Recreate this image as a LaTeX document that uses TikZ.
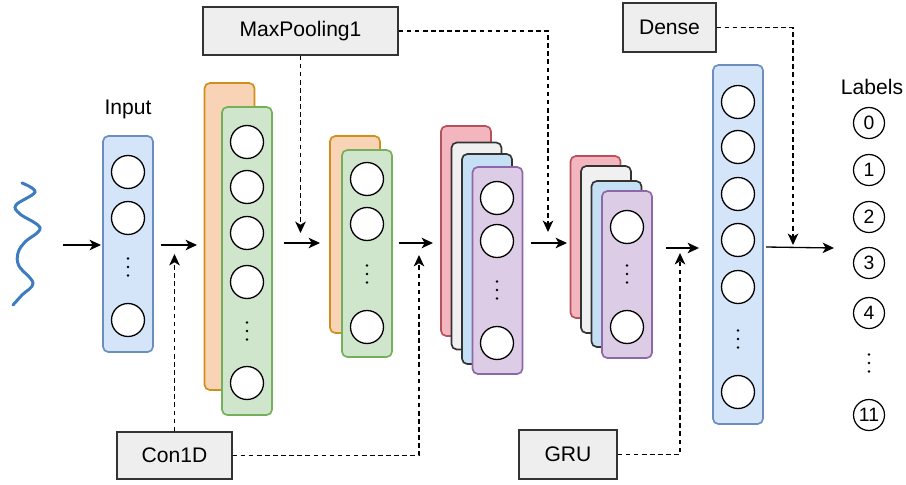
\documentclass[tikz,border=0pt]{standalone}
\usepackage{fontspec}
\setmainfont{Liberation Sans}
\usetikzlibrary{arrows.meta, positioning}

\definecolor{inFill}{HTML}{D4E5FA}
\definecolor{inLine}{HTML}{6C8EBF}
\definecolor{orFill}{HTML}{F9D3B6}
\definecolor{orLine}{HTML}{D08F1A}
\definecolor{grFill}{HTML}{CFE6CD}
\definecolor{grLine}{HTML}{74B05A}
\definecolor{rdFill}{HTML}{F3B5BE}
\definecolor{rdLine}{HTML}{B8505A}
\definecolor{whFill}{HTML}{F0F0F0}
\definecolor{dkLine}{HTML}{333333}
\definecolor{buFill}{HTML}{C5E0F5}
\definecolor{puFill}{HTML}{DDCCE6}
\definecolor{puLine}{HTML}{8E67A8}
\definecolor{boxFill}{HTML}{EEEEEE}
\definecolor{waveCol}{HTML}{3D7CC0}

\tikzset{
  layer/.style={draw, rounded corners=3pt, line width=0.95pt, minimum width=10mm, inner sep=0pt},
  nrn/.style={circle, draw, fill=white, line width=0.75pt, minimum size=6.6mm, inner sep=0pt},
  lbl/.style={circle, draw, line width=0.7pt, minimum size=6.2mm, inner sep=0pt, font=\fontsize{11}{12}\selectfont},
  opbox/.style={draw=dkLine, fill=boxFill, line width=0.8pt, inner sep=0pt},
  arr/.style={-{Stealth[length=6.5pt,width=6pt,inset=1.8pt]}, line width=0.75pt},
  darr/.style={arr, line width=0.85pt, dash pattern=on 2.6pt off 2pt}
}

% three small dots in a column
\newcommand{\colDots}[2]{\foreach \d in {-8.5,0,8.5} \fill (#1,#2+\d) circle (0.8pt);}

\begin{document}
\begin{tikzpicture}[x=0.02cm, y=-0.02cm, font=\fontsize{12}{14}\selectfont]
    \useasboundingbox (0,0) rectangle (906,484);

    % signal
    \draw[waveCol, line width=1.7pt, line cap=round] plot[smooth, tension=0.6] coordinates
        {(22,183) (35,192) (16,205) (20,214) (40,228) (25,242) (18,253) (19,266) (33,283) (22,295) (13,305)};

    % Input column
    \node (inLbl) at (128,109) {Input};
    \node[layer, fill=inFill, draw=inLine, minimum height=43.2mm] (in) at (128,244) {};
    \foreach \yy [count=\k] in {172,218,320} \node[nrn] (in\k) at (128,\yy) {};
    \colDots{128}{267}

    % Con1D layer
    \node[layer, fill=orFill, draw=orLine, minimum height=61.4mm] (cvB) at (229.5,236.5) {};
    \node[layer, fill=grFill, draw=grLine, minimum height=61.6mm] (cvF) at (247,261) {};
    \foreach \yy [count=\k] in {142,187,233,282,383} \node[nrn] (cv\k) at (247,\yy) {};
    \colDots{247}{331}

    % MaxPooling layer
    \node[layer, fill=orFill, draw=orLine, minimum height=39.4mm] (poB) at (355,234.5) {};
    \node[layer, fill=grFill, draw=grLine, minimum height=41.4mm] (poF) at (367,253.5) {};
    \foreach \yy [count=\k] in {179,224,327} \node[nrn] (po\k) at (367,\yy) {};
    \colDots{367}{274}

    % first GRU stack
    \node[layer, fill=rdFill, draw=rdLine, minimum height=42mm] (gaR) at (466,231) {};
    \node[layer, fill=whFill, draw=dkLine, minimum height=41.4mm] (gaW) at (476.5,246) {};
    \node[layer, fill=buFill, draw=dkLine, minimum height=42mm] (gaB) at (487,259) {};
    \node[layer, fill=puFill, draw=puLine, minimum height=41.4mm] (gaP) at (497.5,270.5) {};
    \foreach \yy [count=\k] in {198,241,343} \node[nrn] (ga\k) at (497,\yy) {};
    \colDots{497}{290}

    % second GRU stack
    \node[layer, fill=rdFill, draw=rdLine, minimum height=32.4mm] (gbR) at (595.5,237) {};
    \node[layer, fill=whFill, draw=dkLine, minimum height=33.4mm] (gbW) at (606,249.5) {};
    \node[layer, fill=buFill, draw=dkLine, minimum height=33.2mm] (gbB) at (616.5,264) {};
    \node[layer, fill=puFill, draw=puLine, minimum height=33.4mm] (gbP) at (627,274.5) {};
    \foreach \yy [count=\k] in {227,327} \node[nrn] (gb\k) at (627,\yy) {};
    \colDots{627}{274}

    % Dense column
    \node[layer, fill=inFill, draw=inLine, minimum height=71.8mm] (dn) at (738,244.5) {};
    \foreach \yy [count=\k] in {102,147,194,240,287,392} \node[nrn] (dn\k) at (738,\yy) {};
    \colDots{738}{339}

    % output labels
    \node (labLbl) at (872,87) {Labels};
    \foreach \t/\yy in {0/123,1/170,2/217,3/263,4/313,11/415} \node[lbl] (out\t) at (869,\yy) {\t};
    \colDots{869}{363}

    % operation boxes
    \node[opbox, minimum width=39mm, minimum height=9.6mm] (mp) at (300.5,31) {MaxPooling1};
    \node[opbox, minimum width=18.6mm, minimum height=9.8mm] (de) at (669.5,27.5) {Dense};
    \node[opbox, minimum width=23mm, minimum height=9.4mm] (co) at (174.5,455.5) {Con1D};
    \node[opbox, minimum width=19.6mm, minimum height=9.8mm] (gr) at (568,454.5) {GRU};

    % flow arrows between layers
    \foreach \xa/\xb/\yy [count=\k] in {63/101/245, 161/197/245, 284/320/243, 399/433/243, 531/567/243, 666/699/248} {
        \coordinate (s\k) at (\xa,\yy);
        \coordinate (t\k) at (\xb,\yy);
        \draw[arr] (s\k) -- (t\k);
    }
    \coordinate (s7) at (766,247);
    \coordinate (t7) at (834,248);
    \draw[arr] (s7) -- (t7);

    % dashed links from the boxes
    \coordinate (coTipA) at (175,254);
    \coordinate (coTipB) at (419,255);
    \coordinate (mpTipA) at (300,233);
    \coordinate (mpTipB) at (548,232);
    \coordinate (grTip) at (680,253);
    \coordinate (deTip) at (793,245);
    \draw[darr] (co.north) -- (co.north |- coTipA);
    \draw[darr] (co.east) -| (coTipB);
    \draw[darr] (mp.south) -- (mp.south |- mpTipA);
    \draw[darr] (mp.east) -| (mpTipB);
    \draw[darr] (gr.east) -| (grTip);
    \draw[darr] (de.east) -| (deTip);
\end{tikzpicture}
\end{document}
